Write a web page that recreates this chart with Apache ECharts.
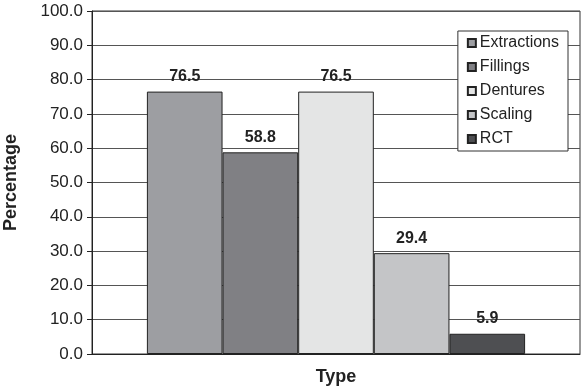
<!DOCTYPE html>
<html>
<head>
<meta charset="utf-8">
<script src="https://cdn.jsdelivr.net/npm/echarts@6/dist/echarts.min.js"></script>
<style>
	html, body { margin: 0; padding: 0; background: #fff; }
	#myChart { width: 584px; height: 386px; }
</style>
</head>
<body>
<div id="myChart"></div>
<script>
	// 数据
	var categories = ['Type'];
	var seriesNames = ['Extractions', 'Fillings', 'Dentures', 'Scaling', 'RCT'];
	var seriesValues = [76.5, 58.8, 76.5, 29.4, 5.9];
	var seriesColors = ['#9d9ea2', '#808084', '#e4e5e5', '#c4c5c7', '#4e4f52'];

	var myChart = echarts.init(document.getElementById('myChart'));
	var font = 'Liberation Sans, Arial, sans-serif';

	var series = [];
	for (var i = 0; i < seriesNames.length; i++) {
		series.push({
			name: seriesNames[i],
			type: 'bar',
			barGap: '0%',
			barCategoryGap: '22.5%',
			data: [seriesValues[i]],
			itemStyle: {
				color: seriesColors[i],
				borderColor: '#222',
				borderWidth: 1
			},
			label: {
				show: true,
				position: 'top',
				distance: 7,
				fontFamily: font,
				fontWeight: 'bold',
				fontSize: 16,
				color: '#222',
				formatter: function(p) { return p.value.toFixed(1); }
			}
		});
	}

	myChart.setOption({
		animation: false,
		textStyle: { fontFamily: font },
		grid: {
			left: 92, right: 4, top: 11, bottom: 32,
			outerBoundsMode: 'none',
			containLabel: false,
			show: true,
			borderColor: '#333',
			borderWidth: 1
		},
		legend: {
			orient: 'vertical',
			right: 16,
			top: 31,
			icon: 'rect',
			itemWidth: 8,
			itemHeight: 8,
			itemGap: 8,
			padding: [4, 9, 4, 9],
			borderColor: '#333',
			borderWidth: 1,
			backgroundColor: '#fff',
			textStyle: { fontFamily: font, fontSize: 16, lineHeight: 16, color: '#222', padding: [0, 0, 0, -1] },
			data: seriesNames
		},
		xAxis: {
			type: 'category',
			data: categories,
			name: 'Type',
			nameLocation: 'middle',
			nameGap: 14,
			nameTextStyle: { fontFamily: font, fontWeight: 'bold', fontSize: 18, color: '#222' },
			axisLine: { lineStyle: { color: '#222' } },
			axisTick: { show: false },
			axisLabel: { show: false }
		},
		yAxis: {
			type: 'value',
			min: 0,
			max: 100,
			interval: 10,
			name: 'Percentage',
			nameLocation: 'middle',
			nameGap: 72,
			nameTextStyle: { fontFamily: font, fontWeight: 'bold', fontSize: 18, color: '#222' },
			axisLine: { show: true, lineStyle: { color: '#222' } },
			axisTick: { show: true, length: 5, lineStyle: { color: '#222' } },
			axisLabel: {
				fontFamily: font,
				fontSize: 17,
				color: '#222',
				margin: 9,
				formatter: function(v) { return v.toFixed(1); }
			},
			splitLine: { lineStyle: { color: '#555', width: 1 } }
		},
		series: series
	});
</script>
</body>
</html>
